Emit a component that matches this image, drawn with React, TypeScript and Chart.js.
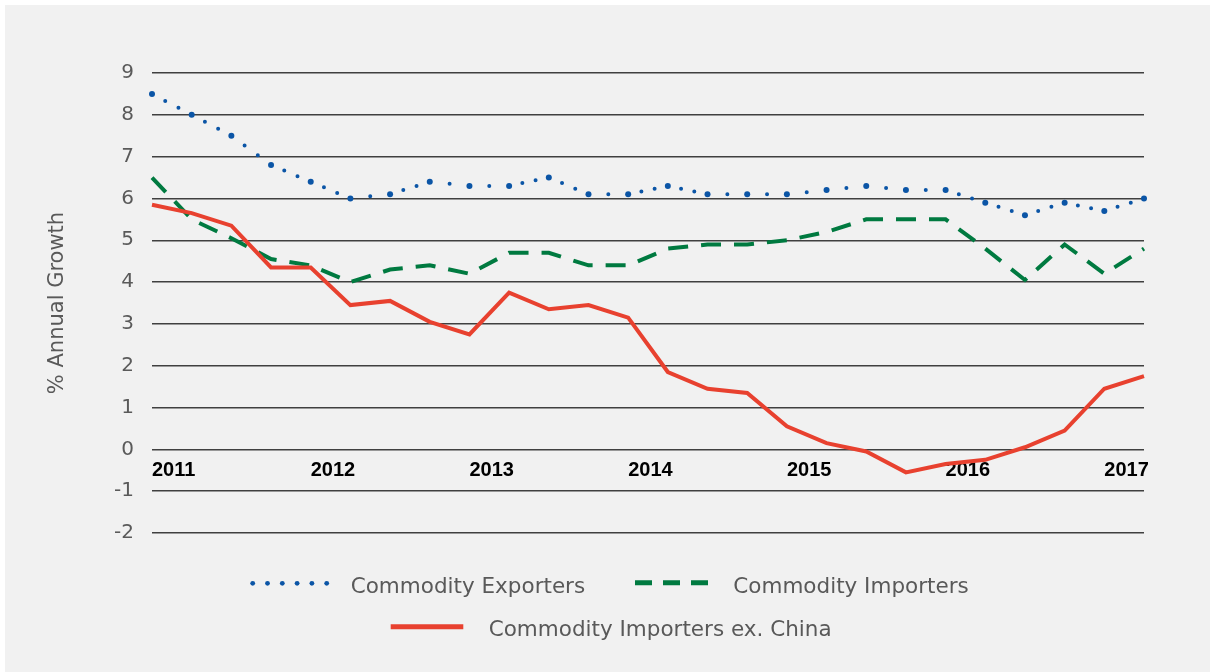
import React, { useEffect, useRef } from 'react';
import { Chart, registerables } from 'chart.js';

Chart.register(...registerables);

const quarters = [
  '2011 Q1', '2011 Q2', '2011 Q3', '2011 Q4',
  '2012 Q1', '2012 Q2', '2012 Q3', '2012 Q4',
  '2013 Q1', '2013 Q2', '2013 Q3', '2013 Q4',
  '2014 Q1', '2014 Q2', '2014 Q3', '2014 Q4',
  '2015 Q1', '2015 Q2', '2015 Q3', '2015 Q4',
  '2016 Q1', '2016 Q2', '2016 Q3', '2016 Q4',
  '2017 Q1', '2017 Q2',
];

const commodityExporters = [
  8.5, 8.0, 7.5, 6.8, 6.4, 6.0, 6.1, 6.4, 6.3, 6.3, 6.5, 6.1, 6.1,
  6.3, 6.1, 6.1, 6.1, 6.2, 6.3, 6.2, 6.2, 5.9, 5.6, 5.9, 5.7, 6.0,
];

const commodityImporters = [
  6.5, 5.5, 5.05, 4.55, 4.4, 4.0, 4.3, 4.4, 4.2, 4.7, 4.7, 4.4, 4.4,
  4.8, 4.9, 4.9, 5.0, 5.2, 5.5, 5.5, 5.5, 4.8, 4.05, 4.9, 4.2, 4.8,
];

const commodityImportersExChina = [
  5.85, 5.65, 5.35, 4.35, 4.35, 3.45, 3.55, 3.05, 2.75, 3.75, 3.35, 3.45, 3.15,
  1.85, 1.45, 1.35, 0.55, 0.15, -0.05, -0.55, -0.35, -0.25, 0.05, 0.45, 1.45, 1.75,
];

const seriesNames = ['Commodity Exporters', 'Commodity Importers', 'Commodity Importers ex. China'];
const yMin = -2;
const yMax = 9;
const yTitle = '% Annual Growth';

const BLUE = '#0b55a6';
const GREEN = '#007a40';
const RED = '#e8412f';
const FONT = '"DejaVu Sans", sans-serif';

const legendPlugin = {
  id: 'customLegend',
  afterDraw(chart: any) {
    const ctx = chart.ctx as CanvasRenderingContext2D;
    ctx.save();
    ctx.fillStyle = BLUE;
    for (let i = 0; i < 6; i++) {
      ctx.beginPath();
      ctx.arc(247.7 + i * 14.8, 578.3, 2.4, 0, Math.PI * 2);
      ctx.fill();
    }
    ctx.strokeStyle = GREEN;
    ctx.lineWidth = 5;
    ctx.lineCap = 'butt';
    ctx.setLineDash([17, 11]);
    ctx.beginPath();
    ctx.moveTo(630, 577.7);
    ctx.lineTo(703, 577.7);
    ctx.stroke();
    ctx.setLineDash([]);
    ctx.strokeStyle = RED;
    ctx.beginPath();
    ctx.moveTo(385.7, 621.7);
    ctx.lineTo(458.3, 621.7);
    ctx.stroke();

    ctx.font = '21.5px ' + FONT;
    ctx.fillStyle = '#595959';
    ctx.textBaseline = 'alphabetic';
    ctx.textAlign = 'left';
    ctx.fillText(seriesNames[0], 345.7, 587.7);
    ctx.fillText(seriesNames[1], 728.3, 587.7);
    ctx.fillText(seriesNames[2], 483.7, 631);
    ctx.restore();
  },
};

export default function App() {
  const canvasRef = useRef<HTMLCanvasElement | null>(null);

  useEffect(() => {
    if (!canvasRef.current) return;
    Chart.defaults.font.family = FONT;
    const chart = new Chart(canvasRef.current, {
      type: 'line',
      data: {
        labels: quarters,
        datasets: [
          {
            label: seriesNames[0],
            data: commodityExporters,
            borderColor: BLUE,
            backgroundColor: BLUE,
            borderWidth: 4,
            borderCapStyle: 'round',
            pointRadius: 3,
            pointBorderWidth: 0,
            pointBackgroundColor: BLUE,
            tension: 0,
            order: 1,
            segment: {
              borderDash: (c: any) => {
                const len = Math.hypot(c.p1.x - c.p0.x, c.p1.y - c.p0.y);
                const n = Math.max(1, Math.round(len / 16));
                return [0, len / n];
              },
            },
          } as any,
          {
            label: seriesNames[1],
            data: commodityImporters,
            borderColor: GREEN,
            backgroundColor: GREEN,
            borderWidth: 4,
            borderDash: [20, 13],
            borderCapStyle: 'butt',
            pointRadius: 0,
            tension: 0,
            order: 2,
          },
          {
            label: seriesNames[2],
            data: commodityImportersExChina,
            borderColor: RED,
            backgroundColor: RED,
            borderWidth: 4,
            pointRadius: 0,
            tension: 0,
            order: 0,
          },
        ],
      },
      options: {
        responsive: false,
        animation: false,
        devicePixelRatio: 1,
        layout: { padding: { left: 0, right: 66, top: 68, bottom: 139 } },
        plugins: {
          legend: { display: false },
          tooltip: { enabled: false },
        },
        scales: {
          x: {
            type: 'category',
            position: { y: 0 } as any,
            offset: false,
            grid: { display: false, drawTicks: false },
            border: { display: false },
            ticks: {
              autoSkip: false,
              maxRotation: 0,
              minRotation: 0,
              align: 'start',
              padding: 9,
              color: '#000000',
              font: { size: 20, family: '"Liberation Sans", Arial, sans-serif', weight: 'bold' },
              callback: (_v: any, i: number) => (quarters[i].endsWith('Q1') ? quarters[i].slice(0, 4) : ''),
            },
          },
          y: {
            min: yMin,
            max: yMax,
            afterFit: (scale: any) => {
              scale.width = 147;
            },
            grid: { color: '#404040', lineWidth: 1.5, drawTicks: false },
            border: { display: false },
            ticks: {
              stepSize: 1,
              padding: 18,
              color: '#5a5a5a',
              font: { size: 20, family: FONT },
            },
            title: {
              display: true,
              text: yTitle,
              color: '#595959',
              font: { size: 21, family: FONT },
              padding: { top: 40, bottom: 0 },
            },
          },
        },
      },
      plugins: [legendPlugin],
    });
    return () => chart.destroy();
  }, []);

  return (
    <div style={{ position: 'fixed', left: 0, top: 0, width: 1210, height: 672, background: '#ffffff' }}>
      <div style={{ position: 'absolute', left: 5, top: 5, width: 1205, height: 667, background: '#f1f1f1' }}>
        <canvas ref={canvasRef} width={1205} height={667} style={{ display: 'block' }} />
      </div>
    </div>
  );
}
